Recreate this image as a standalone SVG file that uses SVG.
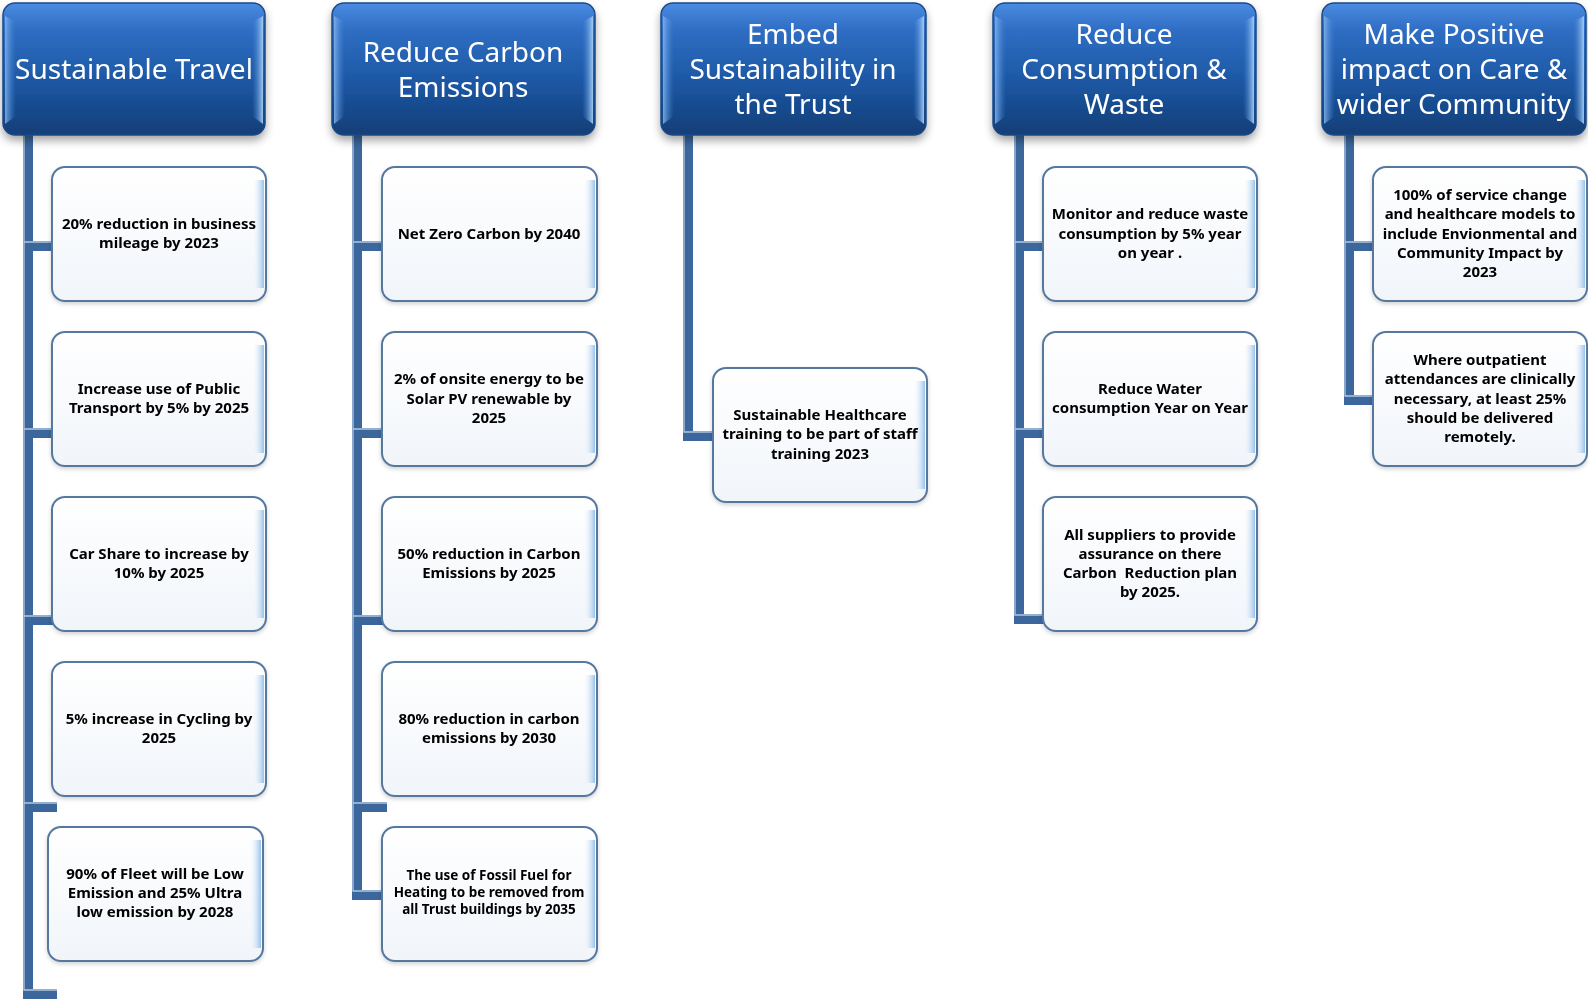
<svg xmlns="http://www.w3.org/2000/svg" width="1588" height="1001" viewBox="0 0 1588 1001">
<style>
.hdr{fill:url(#hdrGrad);stroke:#1b4a86;stroke-width:1.5}
.bevL{fill:url(#bevL)}
.bevR{fill:url(#bevR)}
.ht{font-family:"Noto Sans","Open Sans",sans-serif;font-size:28px;fill:#ffffff;text-anchor:middle}
.box{fill:url(#boxGrad);stroke:#55789f;stroke-width:2}
.boxHi{fill:url(#boxHi)}
.bt{font-family:"Noto Sans","Open Sans",sans-serif;font-size:15px;font-weight:bold;fill:#000;text-anchor:middle}
.sm{font-size:13.5px}
.cd{fill:none;stroke:#3b679d;stroke-width:10;stroke-linejoin:miter;stroke-linecap:butt}
.cl{fill:none;stroke:#b4c8e2;stroke-width:1.3;stroke-linejoin:miter}
</style>
<defs>
<linearGradient id="hdrGrad" x1="0" y1="0" x2="0" y2="1">
<stop offset="0" stop-color="#4a8ce2"/>
<stop offset="0.2" stop-color="#2f6ec4"/>
<stop offset="0.6" stop-color="#1c57a3"/>
<stop offset="1" stop-color="#123e77"/>
</linearGradient>
<linearGradient id="bevL" x1="0" y1="0" x2="1" y2="0">
<stop offset="0" stop-color="#7fb2ee" stop-opacity="0.9"/>
<stop offset="1" stop-color="#3f7fd0" stop-opacity="0"/>
</linearGradient>
<linearGradient id="bevR" x1="1" y1="0" x2="0" y2="0">
<stop offset="0" stop-color="#a8d0f7" stop-opacity="0.95"/>
<stop offset="1" stop-color="#3f7fd0" stop-opacity="0"/>
</linearGradient>
<linearGradient id="boxGrad" x1="0" y1="0" x2="0" y2="1">
<stop offset="0" stop-color="#ffffff"/>
<stop offset="1" stop-color="#f1f5fa"/>
</linearGradient>
<linearGradient id="boxHi" x1="1" y1="0" x2="0" y2="0">
<stop offset="0" stop-color="#8dbbe8" stop-opacity="0.9"/>
<stop offset="1" stop-color="#ffffff" stop-opacity="0"/>
</linearGradient>
<filter id="sh" x="-10%" y="-10%" width="120%" height="130%">
<feDropShadow dx="0" dy="5" stdDeviation="4" flood-color="#000" flood-opacity="0.35"/>
</filter>
<filter id="sh2" x="-10%" y="-10%" width="120%" height="130%">
<feDropShadow dx="0" dy="2" stdDeviation="2" flood-color="#000" flood-opacity="0.18"/>
</filter>
</defs>
<rect width="1588" height="1001" fill="#ffffff"/>

<g id="connectors">
<path class="cd" d="M28 135 V994 H57 M28 246 H57 M28 433 H57 M28 620 H57 M28 807 H57"/>
<path class="cl" d="M24 135 V990 H57 M24 242 H57 M24 429 H57 M24 616 H57 M24 803 H57"/>
<path class="cd" d="M357 135 V895 H387 M357 246 H387 M357 433 H387 M357 620 H387 M357 807 H387"/>
<path class="cl" d="M353 135 V891 H387 M353 242 H387 M353 429 H387 M353 616 H387 M353 803 H387"/>
<path class="cd" d="M688 135 V436 H718"/>
<path class="cl" d="M684 135 V432 H718"/>
<path class="cd" d="M1019 135 V619 H1048 M1019 246 H1048 M1019 433 H1048"/>
<path class="cl" d="M1015 135 V615 H1048 M1015 242 H1048 M1015 429 H1048"/>
<path class="cd" d="M1349 135 V400 H1378 M1349 246 H1378"/>
<path class="cl" d="M1345 135 V396 H1378 M1345 242 H1378"/>
</g>

<g id="h1" filter="url(#sh)">
<rect class="hdr" x="3" y="3" width="262" height="132" rx="12"/>
<path class="bevL" d="M5 16 L16 22 V116 L5 124 Z"/>
<path class="bevR" d="M263 16 L252 22 V116 L263 124 Z"/>
<text class="ht" x="134" y="79">Sustainable Travel</text>
</g>
<g id="h2" filter="url(#sh)">
<rect class="hdr" x="332" y="3" width="263" height="132" rx="12"/>
<path class="bevL" d="M334 16 L345 22 V116 L334 124 Z"/>
<path class="bevR" d="M593 16 L582 22 V116 L593 124 Z"/>
<text class="ht" x="463" y="62">Reduce Carbon<tspan x="463" dy="35">Emissions</tspan></text>
</g>
<g id="h3" filter="url(#sh)">
<rect class="hdr" x="661" y="3" width="265" height="132" rx="12"/>
<path class="bevL" d="M663 16 L674 22 V116 L663 124 Z"/>
<path class="bevR" d="M924 16 L913 22 V116 L924 124 Z"/>
<text class="ht" x="793" y="44">Embed<tspan x="793" dy="35">Sustainability in</tspan><tspan x="793" dy="34.5">the Trust</tspan></text>
</g>
<g id="h4" filter="url(#sh)">
<rect class="hdr" x="993" y="3" width="263" height="132" rx="12"/>
<path class="bevL" d="M995 16 L1006 22 V116 L995 124 Z"/>
<path class="bevR" d="M1254 16 L1243 22 V116 L1254 124 Z"/>
<text class="ht" x="1124" y="44">Reduce<tspan x="1124" dy="35">Consumption &amp;</tspan><tspan x="1124" dy="34.5">Waste</tspan></text>
</g>
<g id="h5" filter="url(#sh)">
<rect class="hdr" x="1322" y="3" width="264" height="132" rx="12"/>
<path class="bevL" d="M1324 16 L1335 22 V116 L1324 124 Z"/>
<path class="bevR" d="M1584 16 L1573 22 V116 L1584 124 Z"/>
<text class="ht" x="1454" y="44">Make Positive<tspan x="1454" dy="35">impact on Care &amp;</tspan><tspan x="1454" dy="34.5">wider Community</tspan></text>
</g>

<g id="c1a" filter="url(#sh2)">
<rect class="box" x="52" y="167" width="214" height="134" rx="13"/>
<rect class="boxHi" x="252" y="180" width="12" height="108"/>
<text class="bt" x="159" y="229">20% reduction in business<tspan x="159" dy="19">mileage by 2023</tspan></text>
</g>
<g id="c1b" filter="url(#sh2)">
<rect class="box" x="52" y="332" width="214" height="134" rx="13"/>
<rect class="boxHi" x="252" y="345" width="12" height="108"/>
<text class="bt" x="159" y="394">Increase use of Public<tspan x="159" dy="19">Transport by 5% by 2025</tspan></text>
</g>
<g id="c1c" filter="url(#sh2)">
<rect class="box" x="52" y="497" width="214" height="134" rx="13"/>
<rect class="boxHi" x="252" y="510" width="12" height="108"/>
<text class="bt" x="159" y="559">Car Share to increase by<tspan x="159" dy="19">10% by 2025</tspan></text>
</g>
<g id="c1d" filter="url(#sh2)">
<rect class="box" x="52" y="662" width="214" height="134" rx="13"/>
<rect class="boxHi" x="252" y="675" width="12" height="108"/>
<text class="bt" x="159" y="724">5% increase in Cycling by<tspan x="159" dy="19">2025</tspan></text>
</g>
<g id="c1e" filter="url(#sh2)">
<rect class="box" x="48" y="827" width="215" height="134" rx="13"/>
<rect class="boxHi" x="249" y="840" width="12" height="108"/>
<text class="bt" x="155" y="879">90% of Fleet will be Low<tspan x="155" dy="19">Emission and 25% Ultra</tspan><tspan x="155" dy="19">low emission by 2028</tspan></text>
</g>

<g id="c2a" filter="url(#sh2)">
<rect class="box" x="382" y="167" width="215" height="134" rx="13"/>
<rect class="boxHi" x="583" y="180" width="12" height="108"/>
<text class="bt" x="489" y="239">Net Zero Carbon by 2040</text>
</g>
<g id="c2b" filter="url(#sh2)">
<rect class="box" x="382" y="332" width="215" height="134" rx="13"/>
<rect class="boxHi" x="583" y="345" width="12" height="108"/>
<text class="bt" x="489" y="384">2% of onsite energy to be<tspan x="489" dy="19.5">Solar PV renewable by</tspan><tspan x="489" dy="19">2025</tspan></text>
</g>
<g id="c2c" filter="url(#sh2)">
<rect class="box" x="382" y="497" width="215" height="134" rx="13"/>
<rect class="boxHi" x="583" y="510" width="12" height="108"/>
<text class="bt" x="489" y="559">50% reduction in Carbon<tspan x="489" dy="19">Emissions by 2025</tspan></text>
</g>
<g id="c2d" filter="url(#sh2)">
<rect class="box" x="382" y="662" width="215" height="134" rx="13"/>
<rect class="boxHi" x="583" y="675" width="12" height="108"/>
<text class="bt" x="489" y="724">80% reduction in carbon<tspan x="489" dy="19">emissions by 2030</tspan></text>
</g>
<g id="c2e" filter="url(#sh2)">
<rect class="box" x="382" y="827" width="215" height="134" rx="13"/>
<rect class="boxHi" x="583" y="840" width="12" height="108"/>
<text class="bt sm" x="489" y="880">The use of Fossil Fuel for<tspan x="489" dy="17">Heating to be removed from</tspan><tspan x="489" dy="17">all Trust buildings by 2035</tspan></text>
</g>

<g id="c3a" filter="url(#sh2)">
<rect class="box" x="713" y="368" width="214" height="134" rx="13"/>
<rect class="boxHi" x="913" y="381" width="12" height="108"/>
<text class="bt" x="820" y="420">Sustainable Healthcare<tspan x="820" dy="19">training to be part of staff</tspan><tspan x="820" dy="19.5">training 2023</tspan></text>
</g>

<g id="c4a" filter="url(#sh2)">
<rect class="box" x="1043" y="167" width="214" height="134" rx="13"/>
<rect class="boxHi" x="1243" y="180" width="12" height="108"/>
<text class="bt" x="1150" y="219">Monitor and reduce waste<tspan x="1150" dy="19.5">consumption by 5% year</tspan><tspan x="1150" dy="19">on year .</tspan></text>
</g>
<g id="c4b" filter="url(#sh2)">
<rect class="box" x="1043" y="332" width="214" height="134" rx="13"/>
<rect class="boxHi" x="1243" y="345" width="12" height="108"/>
<text class="bt" x="1150" y="394">Reduce Water<tspan x="1150" dy="19">consumption Year on Year</tspan></text>
</g>
<g id="c4c" filter="url(#sh2)">
<rect class="box" x="1043" y="497" width="214" height="134" rx="13"/>
<rect class="boxHi" x="1243" y="510" width="12" height="108"/>
<text class="bt" x="1150" y="540" xml:space="preserve">All suppliers to provide<tspan x="1150" dy="19">assurance on there</tspan><tspan x="1150" dy="19">Carbon  Reduction plan</tspan><tspan x="1150" dy="19">by 2025.</tspan></text>
</g>

<g id="c5a" filter="url(#sh2)">
<rect class="box" x="1373" y="167" width="214" height="134" rx="13"/>
<rect class="boxHi" x="1573" y="180" width="12" height="108"/>
<text class="bt" x="1480" y="200">100% of service change<tspan x="1480" dy="19">and healthcare models to</tspan><tspan x="1480" dy="19.5">include Envionmental and</tspan><tspan x="1480" dy="19">Community Impact by</tspan><tspan x="1480" dy="19">2023</tspan></text>
</g>
<g id="c5b" filter="url(#sh2)">
<rect class="box" x="1373" y="332" width="214" height="134" rx="13"/>
<rect class="boxHi" x="1573" y="345" width="12" height="108"/>
<text class="bt" x="1480" y="365">Where outpatient<tspan x="1480" dy="19">attendances are clinically</tspan><tspan x="1480" dy="19.5">necessary, at least 25%</tspan><tspan x="1480" dy="19">should be delivered</tspan><tspan x="1480" dy="19">remotely.</tspan></text>
</g>
</svg>
